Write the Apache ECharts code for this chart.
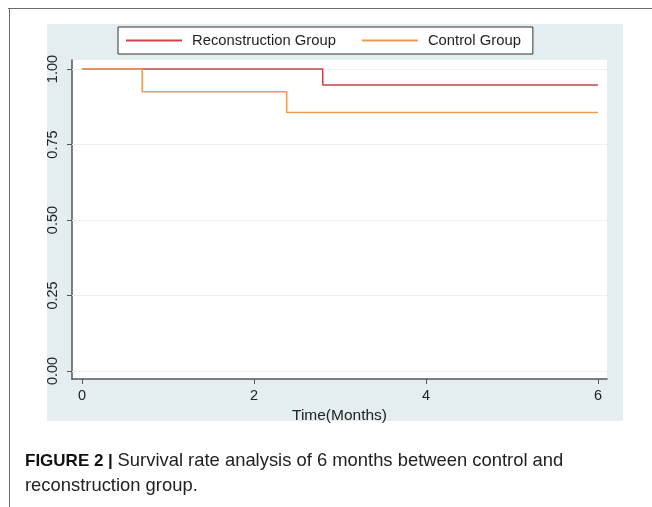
<!DOCTYPE html>
<html>
<head>
<meta charset="utf-8">
<script src="https://cdn.jsdelivr.net/npm/echarts@6/dist/echarts.min.js"></script>
<style>html,body{margin:0;padding:0;background:#fff;}#c{width:652px;height:507px;}</style>
</head>
<body>
<div id="c"></div>
<script>
var seriesNames = ['Reconstruction Group', 'Control Group'];
var reconTimes = [0, 2.8, 6];
var reconSurv = [1.0, 0.947, 0.947];
var controlTimes = [0, 0.7, 2.38, 6];
var controlSurv = [1.0, 0.925, 0.856, 0.856];
var xTicks = [0, 2, 4, 6];
var yTicks = [0, 0.25, 0.5, 0.75, 1.0];
var yTickLabels = ['0.00', '0.25', '0.50', '0.75', '1.00'];
var xAxisName = 'Time(Months)';
var captionBold = 'FIGURE 2 | ';
var captionLine1 = 'Survival rate analysis of 6 months between control and';
var captionLine2 = 'reconstruction group.';

function pairs(xs, ys) { return xs.map(function (x, i) { return [x, ys[i]]; }); }

var chart = echarts.init(document.getElementById('c'), null, { renderer: 'canvas' });
var font = 'Liberation Sans, Arial, Helvetica, sans-serif';
var option = {
  backgroundColor: '#ffffff',
  animation: false,
  graphic: [
    { type: 'rect', z: -10, shape: { x: 47, y: 24, width: 576, height: 397 }, style: { fill: '#e4eef1' } },
    { type: 'line', shape: { x1: 8, y1: 8.5, x2: 652, y2: 8.5 }, style: { stroke: '#6a6a6a', lineWidth: 1 } },
    { type: 'line', shape: { x1: 9.5, y1: 8, x2: 9.5, y2: 507 }, style: { stroke: '#6a6a6a', lineWidth: 1 } },
    { type: 'text', left: 25, top: 452, style: { rich: { b: { fontWeight: 'bold', fontSize: 17, fontFamily: font, fill: '#111' }, n: { fontSize: 18.4, fontFamily: font, fill: '#222' } }, text: '{b|' + captionBold + '}{n|' + captionLine1 + '}' } },
    { type: 'text', left: 25, top: 477, style: { text: captionLine2, fontSize: 18.4, fontFamily: font, fill: '#222' } }
  ],
  legend: {
    left: 118, top: 27,
    data: seriesNames,
    icon: 'rect',
    itemWidth: 56, itemHeight: 2,
    itemGap: 26,
    backgroundColor: '#ffffff',
    borderColor: '#333333', borderWidth: 1, borderRadius: 0,
    padding: [6, 12, 6, 8],
    textStyle: { fontFamily: font, fontSize: 14.8, color: '#222', padding: [0, 0, 0, 5] }
  },
  grid: { left: 72, right: 45, top: 60, bottom: 128, show: true, backgroundColor: '#ffffff', borderWidth: 0 },
  xAxis: {
    type: 'value', min: -0.116, max: 6.105,
    name: xAxisName, nameLocation: 'middle', nameGap: 20,
    nameTextStyle: { fontFamily: font, fontSize: 15.5, color: '#222' },
    axisLine: { show: true, onZero: false, lineStyle: { color: '#555', width: 1.5 } },
    axisTick: { show: true, length: 5, customValues: xTicks, lineStyle: { color: '#555' } },
    axisLabel: { customValues: xTicks, fontFamily: font, fontSize: 14.5, color: '#222', margin: 9 },
    splitLine: { show: false }
  },
  yAxis: {
    type: 'value', min: -0.0265, max: 1.03,
    axisLine: { show: true, onZero: false, lineStyle: { color: '#555', width: 1.5 } },
    axisTick: { show: true, length: 5, customValues: yTicks, lineStyle: { color: '#555' } },
    axisLabel: { customValues: yTicks, rotate: 90, fontFamily: font, fontSize: 14.5, color: '#222', margin: 12,
      formatter: function (v) { var i = yTicks.indexOf(v); return i >= 0 ? yTickLabels[i] : ''; } },
    splitLine: { show: false }
  },
  series: [
    { name: seriesNames[0], type: 'line', step: 'end', showSymbol: false, symbol: 'none',
      data: pairs(reconTimes, reconSurv), lineStyle: { color: '#c9444b', width: 1.5 }, itemStyle: { color: '#c9444b' }, z: 3 },
    { name: seriesNames[1], type: 'line', step: 'end', showSymbol: false, symbol: 'none',
      data: pairs(controlTimes, controlSurv), lineStyle: { color: '#ea9a55', width: 1.5 }, itemStyle: { color: '#ea9a55' }, z: 4,
      markLine: { silent: true, symbol: 'none', label: { show: false }, z: 1,
        lineStyle: { color: '#edf1f3', width: 1, type: 'solid' },
        data: yTicks.map(function (v) { return { yAxis: v }; }) } }
  ]
};
chart.setOption(option);
</script>
</body>
</html>
